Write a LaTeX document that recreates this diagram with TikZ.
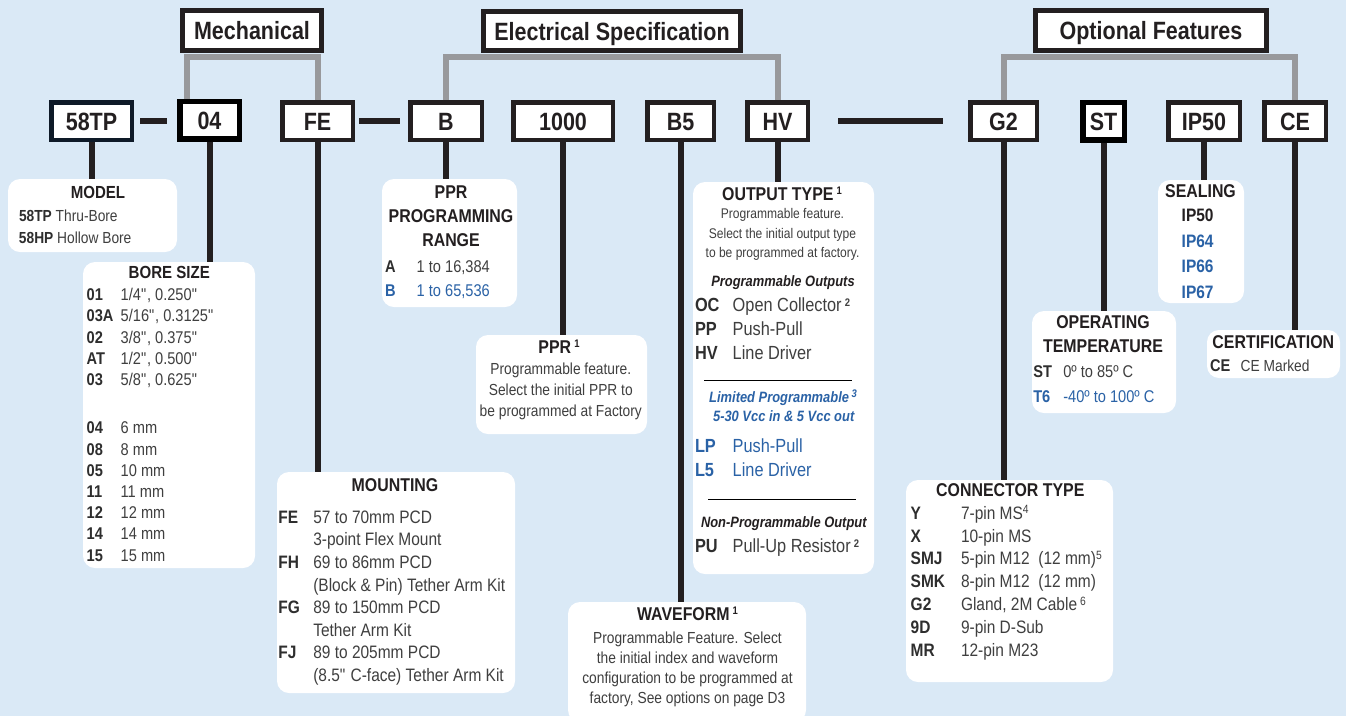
\documentclass[tikz,border=0pt]{standalone}
\usepackage{fontspec}
\setmainfont{Liberation Sans}[FakeStretch=0.86]
\usepackage{array}
\definecolor{bg}{HTML}{DAE9F6}
\definecolor{boxc}{HTML}{231F20}
\definecolor{linec}{HTML}{231F20}
\definecolor{grayc}{HTML}{98999C}
\definecolor{valc}{HTML}{3F3F3F}
\definecolor{codec}{HTML}{2E2E2E}
\definecolor{ttlc}{HTML}{231F20}
\definecolor{blu}{HTML}{2A62A6}
\newcommand\fs[2]{\fontsize{#1}{#2}\selectfont}
\newcommand\fn[1]{\,\raisebox{.3em}{\fs{11}{11}\bfseries #1}}
\newcommand\fnr[1]{\raisebox{.3em}{\fs{12}{12}\mdseries #1}}
\newcommand\qq{\textquotedbl}
\newcolumntype{K}[1]{>{\bfseries\color{codec}}w{l}{#1}}
\newcolumntype{V}{>{\color{valc}}l}
\tikzset{
  hdr/.style={draw=boxc, line width=5pt, fill=white, inner sep=0pt, minimum height=40pt,
    text height=18pt, text depth=0pt, font=\fs{25}{28}\bfseries, text=ttlc},
  codebox/.style={draw=boxc, line width=4.5pt, fill=white, inner sep=0pt, minimum height=37.5pt,
    text height=18pt, text depth=0pt, font=\fs{25}{28}\bfseries, text=ttlc},
  thickbox/.style={codebox, draw=black, line width=5.5pt, minimum height=37.5pt},
  card/.style={fill=white, rounded corners=12pt, inner sep=0pt, draw=none},
  txt/.style={inner sep=0pt, outer sep=0pt, anchor=base west, text=valc},
  ctxt/.style={inner sep=0pt, outer sep=0pt, anchor=base, text=valc},
  ttl/.style={inner sep=0pt, outer sep=0pt, anchor=base, font=\fs{18.5}{22}\bfseries, text=ttlc},
  blk/.style={draw=linec, line width=6pt},
  gry/.style={draw=grayc, line width=6pt},
  sep/.style={draw=black, line width=0.9pt},
}
\begin{document}
\begin{tikzpicture}[x=1pt,y=-1pt]
\useasboundingbox[fill=bg] (0,0) rectangle (1346,716);

% header boxes
\node[hdr, minimum width=139pt] (mech) at (252,30.5) {Mechanical};
\node[hdr, minimum width=257pt, minimum height=39pt] (elec) at (612,31) {Electrical Specification};
\node[hdr, minimum width=231pt] (opt) at (1151,30) {Optional Features};

% code boxes
\node[codebox, minimum width=80.5pt, draw={rgb,255:red,14;green,26;blue,40}] (c58) at (91.5,121) {58TP};
\node[thickbox, minimum width=59.5pt] (c04) at (209.5,120) {04};
\node[codebox, minimum width=70.5pt] (cFE) at (317.5,121) {FE};
\node[codebox, minimum width=71.5pt] (cB) at (446,121) {B};
\node[codebox, minimum width=99.5pt] (c1000) at (563,121) {1000};
\node[codebox, minimum width=66.5pt] (cB5) at (680.5,121) {B5};
\node[codebox, minimum width=60.5pt] (cHV) at (777.5,121) {HV};
\node[codebox, minimum width=66.5pt] (cG2) at (1003.5,121) {G2};
\node[thickbox, minimum width=41.5pt] (cST) at (1103.5,121) {ST};
\node[codebox, minimum width=71.5pt] (cIP) at (1204,121) {IP50};
\node[codebox, minimum width=61.5pt] (cCE) at (1295,121) {CE};

% gray group connectors
\draw[gry] ([xshift=-22.5pt]c04.north) |- ([yshift=-4pt]mech.south) -| (cFE.north);
\draw[gry] (cB.north) |- ([yshift=-4pt]elec.south) -| (cHV.north);
\draw[gry] (cG2.north) |- ([yshift=-4pt]opt.south) -| (cCE.north);

% dash connectors
\draw[blk, line width=6.5pt, shorten <=6pt, shorten >=10pt] (c58.east) -- (c58.east -| c04.west);
\draw[blk, line width=6.5pt, shorten <=4pt, shorten >=8pt] (cFE.east) -- (cB.west);
\draw[blk, line width=6.5pt, shorten <=28pt, shorten >=25pt] (cHV.east) -- (cG2.west);

% cards
\node[card, minimum width=169pt, minimum height=73pt] (modelcard) at (92.5,215.5) {};
\node[card, minimum width=172pt, minimum height=306pt] (borecard) at (169,415) {};
\node[card, minimum width=238pt, minimum height=221pt] (mountcard) at (396,582.5) {};
\node[card, minimum width=135pt, minimum height=128pt] (rangecard) at (449.5,243) {};
\node[card, minimum width=171pt, minimum height=99pt] (pprcard) at (561.5,384.5) {};
\node[card, minimum width=238pt, minimum height=120pt] (wavecard) at (687,662) {};
\node[card, minimum width=181pt, minimum height=392pt] (outcard) at (783.5,378) {};
\node[card, minimum width=207pt, minimum height=202pt] (conncard) at (1009.5,581) {};
\node[card, minimum width=144pt, minimum height=102pt] (tempcard) at (1104,362) {};
\node[card, minimum width=86pt, minimum height=123pt] (sealcard) at (1201,241.5) {};
\node[card, minimum width=133pt, minimum height=48pt] (certcard) at (1273.5,354) {};

% vertical connectors
\draw[blk] (c58.south) -- (c58.south |- modelcard.north);
\draw[blk] (c04.south) -- (c04.south |- borecard.north);
\draw[blk] (cFE.south) -- (cFE.south |- mountcard.north);
\draw[blk] (cB.south) -- (cB.south |- rangecard.north);
\draw[blk] (c1000.south) -- (c1000.south |- pprcard.north);
\draw[blk] (cB5.south) -- (cB5.south |- wavecard.north);
\draw[blk] (cHV.south) -- (cHV.south |- outcard.north);
\draw[blk] (cG2.south) -- (cG2.south |- conncard.north);
\draw[blk] (cST.south) -- (cST.south |- tempcard.north);
\draw[blk] (cIP.south) -- (cIP.south |- sealcard.north);
\draw[blk] (cCE.south) -- (cCE.south |- certcard.north);

% MODEL
\node[ttl, font=\fs{17.5}{21}\bfseries] (tmodel) at (98,198) {MODEL};
\node[txt, font=\fs{16}{22.5}] (bmodel) at (19,221) {\begin{tabular}[t]{@{}l@{}}
{\bfseries\color{codec}58TP} Thru-Bore\\
{\bfseries\color{codec}58HP} Hollow Bore
\end{tabular}};

% BORE SIZE
\node[ttl, font=\fs{17.5}{21}\bfseries] (tbore) at (169.3,278) {BORE SIZE};
\node[txt, font=\fs{17}{21.2}] (bbore) at (86.7,300.7) {\begin{tabular}[t]{@{}K{34pt}@{}V@{}}
01 & 1/4\qq, 0.250\qq\\
03A & 5/16\qq, 0.3125\qq\\
02 & 3/8\qq, 0.375\qq\\
AT & 1/2\qq, 0.500\qq\\
03 & 5/8\qq, 0.625\qq\\
 & \\[6pt]
04 & 6 mm\\
08 & 8 mm\\
05 & 10 mm\\
11 & 11 mm\\
12 & 12 mm\\
14 & 14 mm\\
15 & 15 mm
\end{tabular}};

% MOUNTING
\node[ttl] (tmount) at (395,491.7) {MOUNTING};
\node[txt, font=\fs{18}{22.6}] (bmount) at (278.3,523.3) {\begin{tabular}[t]{@{}K{35pt}@{}V@{}}
FE & 57 to 70mm PCD\\
 & 3-point Flex Mount\\
FH & 69 to 86mm PCD\\
 & (Block \& Pin) Tether Arm Kit\\
FG & 89 to 150mm PCD\\
 & Tether Arm Kit\\
FJ & 89 to 205mm PCD\\
 & (8.5\qq{} C-face) Tether Arm Kit
\end{tabular}};

% PPR PROGRAMMING RANGE
\node[ttl, font=\fs{18.5}{24.2}\bfseries] (trange) at (451,198.3) {\begin{tabular}[t]{@{}c@{}}PPR\\PROGRAMMING\\RANGE\end{tabular}};
\node[txt, font=\fs{17}{24}] (brange) at (385,272.7) {\begin{tabular}[t]{@{}K{31.7pt}@{}V@{}}
A & 1 to 16,384\\
\color{blu}B & \color{blu}1 to 65,536
\end{tabular}};

% PPR 1
\node[ttl] (tppr) at (559,353.3) {PPR\fn{1}};
\node[ctxt, font=\fs{16}{21.3}] (bppr) at (560.8,374) {\begin{tabular}[t]{@{}c@{}}
Programmable feature.\\
Select the initial PPR to\\
be programmed at Factory
\end{tabular}};

% WAVEFORM
\node[ttl] (twave) at (687.5,620) {WAVEFORM\fn{1}};
\node[ctxt, font=\fs{16}{20}] (bwave) at (687.5,643.3) {\begin{tabular}[t]{@{}c@{}}
Programmable Feature. Select\\
the initial index and waveform\\
configuration to be programmed at\\
factory, See options on page D3
\end{tabular}};

% OUTPUT TYPE
\node[ttl] (tout) at (782,200) {OUTPUT TYPE\fn{1}};
\node[ctxt, font=\fs{14}{19.7}] (bout) at (782.5,218.3) {\begin{tabular}[t]{@{}c@{}}
Programmable feature.\\
Select the initial output type\\
to be programmed at factory.
\end{tabular}};
\node[ctxt, font=\fs{15}{18}\bfseries\itshape, text=ttlc] (tprog) at (783,286.7) {Programmable Outputs};
\node[txt, font=\fs{19}{23.8}] (bprog) at (695,311.7) {\begin{tabular}[t]{@{}K{37.7pt}@{}V@{}}
OC & Open Collector\fn{2}\\
PP & Push-Pull\\
HV & Line Driver
\end{tabular}};
\coordinate (s1a) at (704,380); \coordinate (s1b) at (852,380);
\draw[sep] (s1a) -- (s1b);
\node[ctxt, font=\fs{15}{18}\bfseries\itshape, text=blu] (tlim) at (783,402.3) {Limited Programmable\fn{3}};
\node[ctxt, font=\fs{15}{18}\bfseries\itshape, text=blu] (tlim2) at (783.7,421.7) {5-30 Vcc in \& 5 Vcc out};
\node[txt, font=\fs{19}{24}] (blim) at (695,452.7) {\begin{tabular}[t]{@{}K{37.7pt}@{}V@{}}
\color{blu}LP & \color{blu}Push-Pull\\
\color{blu}L5 & \color{blu}Line Driver
\end{tabular}};
\coordinate (s2a) at (708.3,499.3); \coordinate (s2b) at (856,499.3);
\draw[sep] (s2a) -- (s2b);
\node[ctxt, font=\fs{15}{18}\bfseries\itshape, text=ttlc] (tnon) at (783.8,527.3) {Non-Programmable Output};
\node[txt, font=\fs{19}{24}] (bnon) at (695,552.7) {\begin{tabular}[t]{@{}K{37.7pt}@{}V@{}}
PU & Pull-Up Resistor\fn{2}
\end{tabular}};

% CONNECTOR TYPE
\node[ttl] (tconn) at (1010.3,496.7) {CONNECTOR TYPE};
\node[txt, font=\fs{18}{22.8}] (bconn) at (910.7,519.3) {\begin{tabular}[t]{@{}K{50.3pt}@{}V@{}}
Y & 7-pin MS\fnr{4}\\
X & 10-pin MS\\
SMJ & 5-pin M12\ \ (12 mm)\fnr{5}\\
SMK & 8-pin M12\ \ (12 mm)\\
G2 & Gland, 2M Cable\,\fnr{6}\\
9D & 9-pin D-Sub\\
MR & 12-pin M23
\end{tabular}};

% OPERATING TEMPERATURE
\node[ttl, font=\fs{18.5}{24.4}\bfseries] (ttemp) at (1103,328.3) {\begin{tabular}[t]{@{}c@{}}OPERATING\\TEMPERATURE\end{tabular}};
\node[txt, font=\fs{17}{25.4}] (btemp) at (1033.3,377.3) {\begin{tabular}[t]{@{}K{30pt}@{}V@{}}
ST & 0º to 85º C\\
\color{blu}T6 & \color{blu}-40º to 100º C
\end{tabular}};

% SEALING
\node[ttl] (tseal) at (1200.5,197.7) {SEALING};
\node[txt, font=\fs{18}{25.5}\bfseries] (bseal) at (1181.7,221.7) {\begin{tabular}[t]{@{}l@{}}
\color{ttlc}IP50\\
\color{blu}IP64\\
\color{blu}IP66\\
\color{blu}IP67
\end{tabular}};

% CERTIFICATION
\node[ttl] (tcert) at (1273.3,348.3) {CERTIFICATION};
\node[txt, font=\fs{17}{20}\bfseries, text=codec] (ccert) at (1210,371.7) {CE};
\node[txt, font=\fs{16}{20}] (vcert) at (1240.7,371.7) {CE Marked};
\end{tikzpicture}
\end{document}
